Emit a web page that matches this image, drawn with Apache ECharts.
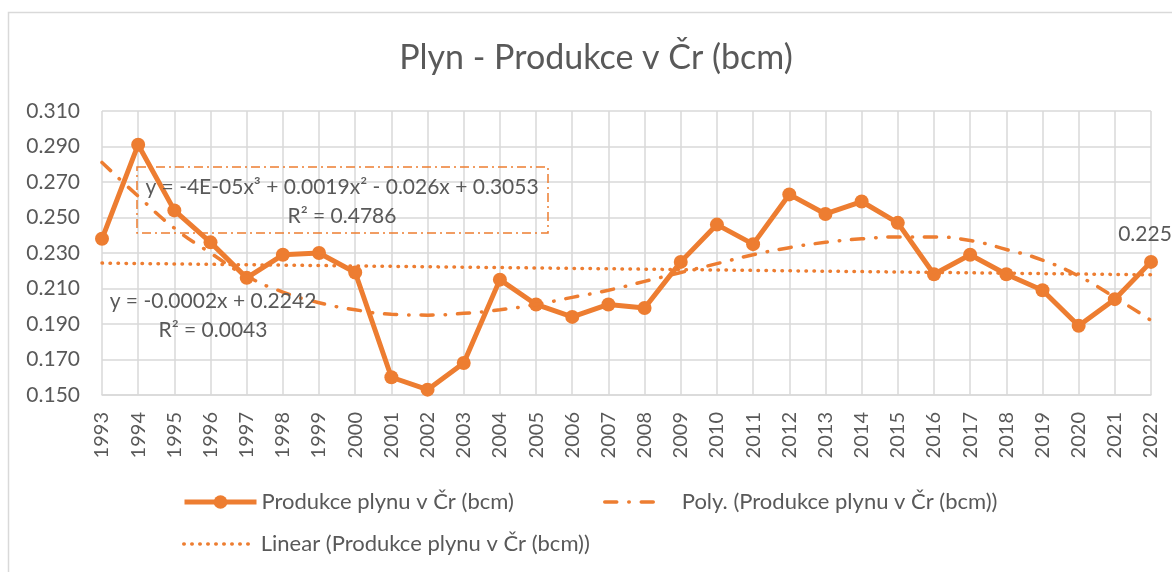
<!DOCTYPE html>
<html>
<head>
<meta charset="utf-8">
<script src="https://cdn.jsdelivr.net/npm/echarts@6/dist/echarts.min.js"></script>
<style>
  html, body { margin: 0; padding: 0; background: #fff; }
  #chart { width: 1172px; height: 572px; }
</style>
</head>
<body>
<div id="chart"></div>
<script>
// roky a hodnoty
var years = ['1993','1994','1995','1996','1997','1998','1999','2000','2001','2002',
  '2003','2004','2005','2006','2007','2008','2009','2010','2011','2012',
  '2013','2014','2015','2016','2017','2018','2019','2020','2021','2022'];
var production = [0.238, 0.291, 0.254, 0.236, 0.216, 0.229, 0.230, 0.219, 0.160, 0.153,
  0.168, 0.215, 0.201, 0.194, 0.201, 0.199, 0.225, 0.246, 0.235, 0.263,
  0.252, 0.259, 0.247, 0.218, 0.229, 0.218, 0.209, 0.189, 0.204, 0.225];
// polynomický trend (3. stupeň)
var polyTrend = [0.281, 0.262, 0.244, 0.230, 0.217, 0.208, 0.202, 0.198, 0.1955, 0.195,
  0.196, 0.198, 0.201, 0.205, 0.209, 0.214, 0.219, 0.224, 0.229, 0.233,
  0.236, 0.238, 0.239, 0.239, 0.237, 0.232, 0.226, 0.217, 0.205, 0.192];
// lineární trend - jen krajní body
var linearYears = ['1993', '2022'];
var linearTrend = [0.2243, 0.2177];
var yTicks = { min: 0.15, max: 0.31, step: 0.02 };

var nameMain = 'Produkce plynu v Čr (bcm)';
var namePoly = 'Poly. (Produkce plynu v Čr (bcm))';
var nameLin = 'Linear (Produkce plynu v Čr (bcm))';

var orange = '#ED7D31';
var grey = '#595959';
var gridGrey = '#D9D9D9';
var font = 'Lato';

var polyDash = [12, 12, 0.5, 12];
var linDash = [0.5, 7.5];

var chart = echarts.init(document.getElementById('chart'));

var mainData = production.map(function (v, i) {
  if (i === production.length - 1) {
    return { value: v, label: { show: true } };
  }
  return v;
});

var legendText = { color: grey, fontSize: 22, fontFamily: font };
// trendy nemaji v legende kolecko
var noSymbol = { color: 'rgba(0,0,0,0)', borderWidth: 0, opacity: 0 };

var option = {
  animation: false,
  backgroundColor: '#fff',
  title: {
    text: 'Plyn - Produkce v Čr (bcm)',
    left: 591,
    textAlign: 'center',
    top: 36,
    textStyle: { color: grey, fontSize: 34, fontWeight: 'normal', fontFamily: font }
  },
  grid: { left: 102, right: 21, top: 111, bottom: 177 },
  legend: [
    {
      data: [nameMain], left: 182, top: 491, padding: 0, itemWidth: 72, itemHeight: 17,
      lineStyle: { width: 5 }, textStyle: legendText
    },
    {
      data: [namePoly], left: 603, top: 491, padding: 0,
      itemWidth: 60, itemHeight: 17,
      itemStyle: noSymbol,
      lineStyle: { width: 3.5, type: polyDash, cap: 'round' },
      textStyle: { color: grey, fontSize: 22, fontFamily: font, padding: [0, 0, 0, 12] }
    },
    {
      data: [nameLin], left: 182, top: 533, padding: 0,
      itemWidth: 72, itemHeight: 17,
      itemStyle: noSymbol,
      lineStyle: { width: 3.5, type: linDash, cap: 'round' },
      textStyle: legendText
    }
  ],
  xAxis: {
    type: 'category',
    data: years,
    boundaryGap: false,
    axisLine: { lineStyle: { color: gridGrey, width: 1.5 } },
    axisTick: { show: false },
    axisLabel: { rotate: 90, margin: 17, color: grey, fontSize: 20, fontFamily: font, interval: 0 },
    splitLine: { show: true, lineStyle: { color: gridGrey, width: 1.5 } }
  },
  yAxis: {
    type: 'value',
    min: yTicks.min,
    max: yTicks.max,
    interval: yTicks.step,
    axisLine: { show: false },
    axisTick: { show: false },
    axisLabel: {
      margin: 22, color: grey, fontSize: 21, fontFamily: font,
      formatter: function (v) { return v.toFixed(3); }
    },
    splitLine: { lineStyle: { color: gridGrey, width: 1.5 } }
  },
  series: [
    {
      name: nameMain,
      type: 'line',
      data: mainData,
      symbol: 'circle',
      symbolSize: 14,
      itemStyle: { color: orange },
      lineStyle: { color: orange, width: 5 },
      label: {
        show: false, position: 'top', distance: 10, offset: [-6, 0],
        color: grey, fontSize: 21, fontFamily: font
      },
      z: 3
    },
    {
      name: namePoly,
      type: 'line',
      data: polyTrend,
      smooth: true,
      symbol: 'none',
      itemStyle: { color: orange },
      lineStyle: { color: orange, width: 3.5, type: polyDash, cap: 'round' },
      z: 4
    },
    {
      name: nameLin,
      type: 'line',
      data: linearYears.map(function (y, i) { return [y, linearTrend[i]]; }),
      symbol: 'none',
      itemStyle: { color: orange },
      lineStyle: { color: orange, width: 3.5, type: linDash, cap: 'round' },
      z: 4
    }
  ],
  graphic: [
    {
      type: 'rect', silent: true,
      shape: { x: 8.5, y: 12.5, width: 1300, height: 700 },
      style: { fill: 'none', stroke: gridGrey, lineWidth: 1.5 }
    },
    {
      type: 'rect', silent: true, z: 10,
      shape: { x: 137, y: 167, width: 411, height: 66 },
      style: { fill: 'none', stroke: orange, lineWidth: 1.5, lineDash: [9, 4, 2, 4] }
    },
    {
      type: 'text', silent: true, z: 11,
      style: {
        text: 'y = -4E-05x³ + 0.0019x² - 0.026x + 0.3053', x: 342, y: 187,
        textAlign: 'center', textVerticalAlign: 'middle', fill: grey, font: '21px Lato'
      }
    },
    {
      type: 'text', silent: true, z: 11,
      style: {
        text: 'R² = 0.4786', x: 342, y: 216,
        textAlign: 'center', textVerticalAlign: 'middle', fill: grey, font: '21px Lato'
      }
    },
    {
      type: 'text', silent: true, z: 11,
      style: {
        text: 'y = -0.0002x + 0.2242', x: 213, y: 301,
        textAlign: 'center', textVerticalAlign: 'middle', fill: grey, font: '21px Lato'
      }
    },
    {
      type: 'text', silent: true, z: 11,
      style: {
        text: 'R² = 0.0043', x: 213, y: 330,
        textAlign: 'center', textVerticalAlign: 'middle', fill: grey, font: '21px Lato'
      }
    }
  ]
};

chart.setOption(option);
</script>
</body>
</html>
